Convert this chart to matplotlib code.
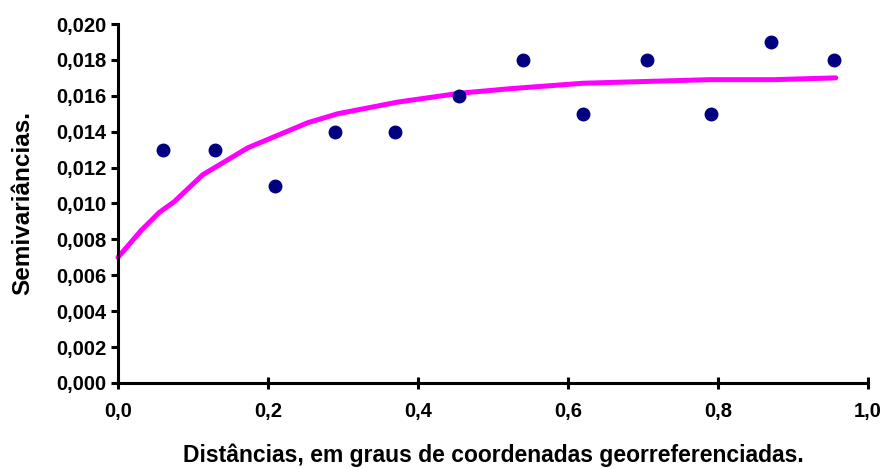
import matplotlib
matplotlib.use("Agg")
import matplotlib.pyplot as plt
from matplotlib.ticker import FuncFormatter

# pontos do semivariograma experimental
dist = [0.06, 0.13, 0.21, 0.29, 0.37, 0.455, 0.54, 0.62, 0.705, 0.79, 0.87, 0.955]
semivar = [0.013, 0.013, 0.011, 0.014, 0.014, 0.016, 0.018, 0.015, 0.018, 0.015, 0.019, 0.018]

# modelo ajustado
mod_x = [0.0, 0.031, 0.055, 0.075, 0.113, 0.173, 0.253, 0.293, 0.373, 0.457, 0.524, 0.62, 0.79, 0.875, 0.957]
mod_y = [0.0070, 0.0085, 0.0095, 0.0101, 0.0116, 0.0131, 0.0145, 0.0150, 0.01565, 0.01615, 0.0164, 0.0167, 0.0169, 0.0169, 0.0170]

xticks = [0.0, 0.2, 0.4, 0.6, 0.8, 1.0]
yticks = [i * 0.002 for i in range(11)]

plt.rcParams['font.family'] = ['Liberation Sans', 'DejaVu Sans']
plt.rcParams['font.weight'] = 'bold'

fig = plt.figure(figsize=(8.87, 4.69), dpi=100)
ax = fig.add_axes([0.133, 0.1834, 0.8456, 0.7654])

ax.plot(mod_x, mod_y, color='#FF00FF', lw=3.6, solid_capstyle='round', clip_on=False, zorder=2)
ax.plot(dist, semivar, 'o', color='#000080', ms=9, mec='#000080', clip_on=False, zorder=3)

ax.set_xlim(0, 1.0)
ax.set_ylim(0, 0.020)
ax.set_xticks(xticks)
ax.set_yticks(yticks)
ax.xaxis.set_major_formatter(FuncFormatter(lambda v, p: f"{v:.1f}".replace('.', ',')))
ax.yaxis.set_major_formatter(FuncFormatter(lambda v, p: f"{v:.3f}".replace('.', ',')))

for s in ['top', 'right']:
    ax.spines[s].set_visible(False)
for s in ['left', 'bottom']:
    ax.spines[s].set_linewidth(2.2)

ax.tick_params(axis='x', direction='inout', length=8, width=2.2, labelsize=14.5, pad=10)
ax.tick_params(axis='y', direction='out', length=5, width=2.2, labelsize=14.5, pad=3)

ax.set_xlabel('Distâncias, em graus de coordenadas georreferenciadas.', fontsize=16.5,
              fontweight='bold', labelpad=16)
ax.set_ylabel('Semivariâncias.', fontsize=17.5, fontweight='bold', labelpad=16)

fig.savefig('out.png', dpi=100)
